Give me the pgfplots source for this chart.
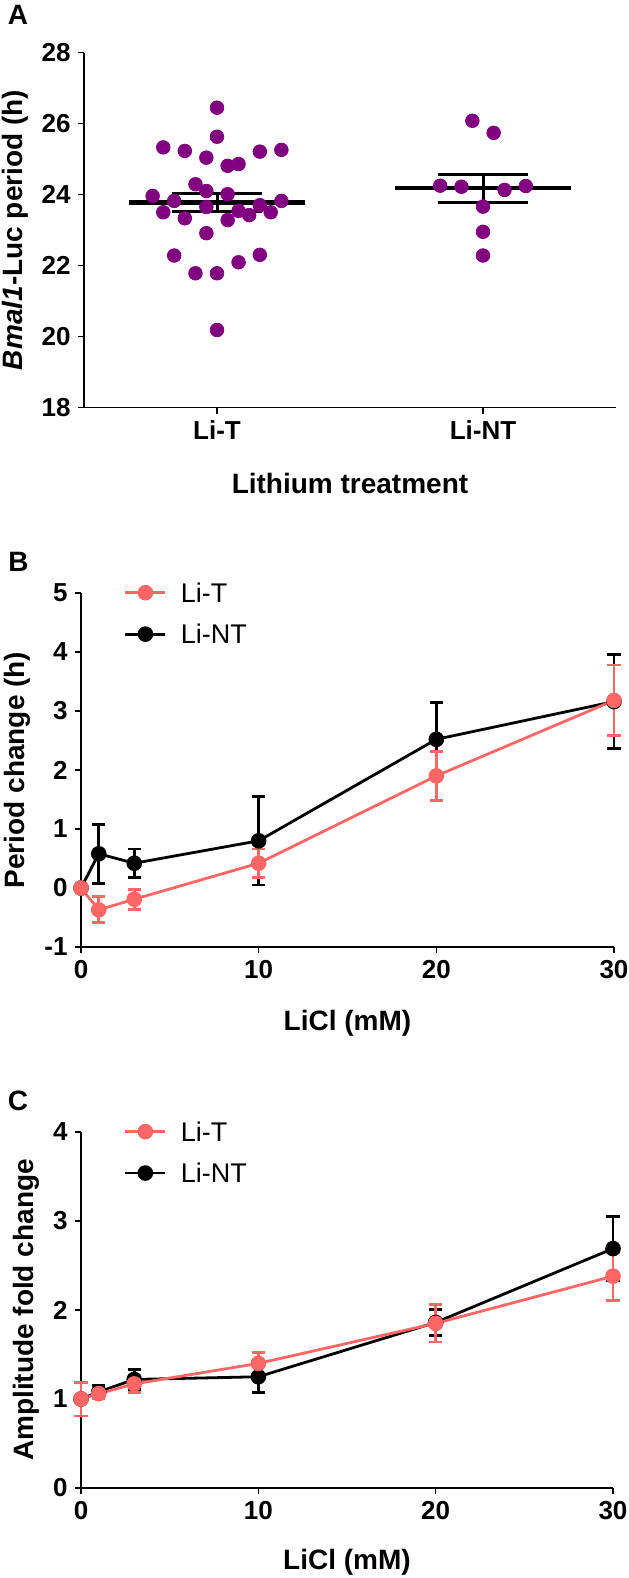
\documentclass[border=0pt]{standalone}
\usepackage{pgfplots}
\usepackage{pgfplotstable}
\pgfplotsset{compat=1.18}
\usepackage{fontspec}
\setmainfont{Liberation Sans}
\definecolor{salmon}{RGB}{255,102,102}
\definecolor{grape}{RGB}{128,0,128}

% panel B: period change
\pgfplotstableread{
x   y      e
0   0.00   0.00
1  -0.37   0.22
3  -0.19   0.17
10  0.42   0.24
20  1.90   0.42
30  3.18   0.60
}\periodT
\pgfplotstableread{
x   y      e
0   0.00   0.00
1   0.58   0.50
3   0.42   0.24
10  0.80   0.75
20  2.52   0.63
30  3.16   0.80
}\periodNT
% panel C: amplitude fold change
\pgfplotstableread{
x   y      e
0   1.00   0.19
1   1.06   0.05
3   1.17   0.10
10  1.40   0.12
20  1.85   0.21
30  2.38   0.27
}\ampT
\pgfplotstableread{
x   y      e
0   1.00   0.00
1   1.08   0.07
3   1.22   0.11
10  1.25   0.18
20  1.86   0.15
30  2.69   0.36
}\ampNT

\pgfplotsset{
  gp/.style={
    scale only axis,
    anchor=south west,
    axis lines*=left,
    axis line style={line width=0.8pt},
    tick style={line width=0.8pt, black},
    tick align=outside,
    major tick length=3.2pt,
    tick label style={font=\fontsize{13}{15}\selectfont\bfseries},
    label style={font=\fontsize{14}{16}\selectfont\bfseries},
    /pgf/number format/assume math mode=true,
    clip=false,
  },
  series/.style={
    color=#1, line width=1.4pt, mark=*, mark size=3.2pt,
    mark options={solid, fill=#1},
    error bars/.cd, y dir=both, y explicit,
    error bar style={line width=1.4pt, color=#1},
    error mark options={rotate=90, mark size=3.3pt, line width=1.4pt, color=#1},
  },
  lgd/.style={
    reverse legend,
    legend style={draw=none, fill=none, inner sep=0pt,
      at={(axis description cs:0.08,1.035)}, anchor=north west,
      font=\fontsize{13.5}{15}\selectfont, row sep=9pt, column sep=6pt,
      nodes={inner sep=1pt, text height=9.7pt, text depth=0pt}},
    legend cell align=left,
    legend image code/.code={
      \draw[##1, mark repeat=2, mark phase=2]
        plot coordinates {(0pt,0pt) (10pt,0pt) (20pt,0pt)};},
  },
}

\begin{document}
\begin{tikzpicture}
\path[use as bounding box] (0,0) rectangle (314pt,-789pt);

% ---------- A ----------
\node[font=\fontsize{14}{16}\selectfont\bfseries] at (9pt,-7.5pt) {A};
\begin{axis}[gp, at={(42pt,-203.65pt)}, width=266pt, height=177.3pt,
  xmin=0.5, xmax=2.5, ymin=18, ymax=28, ytick={18,20,...,28},
  xtick={1,2}, xticklabels={Li-T,Li-NT},
  ylabel={\textit{Bmal1}-Luc period (h)},
  xlabel={Lithium treatment},
  xlabel style={at={(axis description cs:0.5,-0.214)}, anchor=center}]
\addplot[only marks, mark=*, mark size=3.4pt, grape] coordinates {
  (1.000,26.45) (1.000,25.63) (0.798,25.33) (0.879,25.23) (0.960,25.04)
  (1.040,24.81) (1.081,24.86) (1.161,25.21) (1.242,25.26) (0.919,24.29)
  (0.960,24.10) (0.758,23.96) (0.839,23.82) (1.040,24.01) (1.242,23.82)
  (0.798,23.50) (0.879,23.33) (0.960,23.65) (1.161,23.70) (1.040,23.28)
  (1.081,23.54) (1.121,23.42) (1.202,23.50) (0.960,22.91) (0.839,22.28)
  (1.161,22.30) (1.081,22.09) (0.919,21.78) (1.000,21.78) (1.000,20.18)
  (1.960,26.08) (2.040,25.74) (1.839,24.25) (1.919,24.22) (2.081,24.13)
  (2.161,24.24) (2.000,23.66) (2.000,22.95) (2.000,22.28)
};
% mean and SEM
\addplot[black, line width=2.3pt] coordinates {(0.668,23.77) (1.332,23.77)};
\addplot[black, line width=1.5pt] coordinates {(0.83,24.03) (1.17,24.03)};
\addplot[black, line width=1.5pt] coordinates {(0.83,23.51) (1.17,23.51)};
\addplot[black, line width=1.5pt] coordinates {(1,23.51) (1,24.03)};
\addplot[black, line width=2.3pt] coordinates {(1.668,24.18) (2.332,24.18)};
\addplot[black, line width=1.5pt] coordinates {(1.83,24.57) (2.17,24.57)};
\addplot[black, line width=1.5pt] coordinates {(1.83,23.78) (2.17,23.78)};
\addplot[black, line width=1.5pt] coordinates {(2,23.78) (2,24.57)};
\end{axis}

% ---------- B ----------
\node[font=\fontsize{14}{16}\selectfont\bfseries] at (9.25pt,-281pt) {B};
\begin{axis}[gp, lgd, at={(40.5pt,-473.5pt)}, width=266.5pt, height=177pt,
  xmin=0, xmax=30, ymin=-1, ymax=5, xtick={0,10,20,30}, ytick={-1,0,...,5},
  ylabel={Period change (h)},
  xlabel={LiCl (mM)},
  xlabel style={at={(axis description cs:0.5,-0.215)}, anchor=center}]
\addplot[series=black] table[x=x, y=y, y error=e] {\periodNT};
\addplot[series=salmon] table[x=x, y=y, y error=e] {\periodT};
\legend{Li-NT, Li-T}
\end{axis}

% ---------- C ----------
\node[font=\fontsize{14}{16}\selectfont\bfseries] at (9pt,-550.5pt) {C};
\begin{axis}[gp, lgd, at={(40.5pt,-744pt)}, width=266pt, height=178pt,
  xmin=0, xmax=30, ymin=0, ymax=4, xtick={0,10,20,30}, ytick={0,...,4},
  ylabel={Amplitude fold change},
  xlabel={LiCl (mM)},
  xlabel style={at={(axis description cs:0.5,-0.208)}, anchor=center}]
\addplot[series=black] table[x=x, y=y, y error=e] {\ampNT};
\addplot[series=salmon] table[x=x, y=y, y error=e] {\ampT};
\legend{Li-NT, Li-T}
\end{axis}
\end{tikzpicture}
\end{document}
